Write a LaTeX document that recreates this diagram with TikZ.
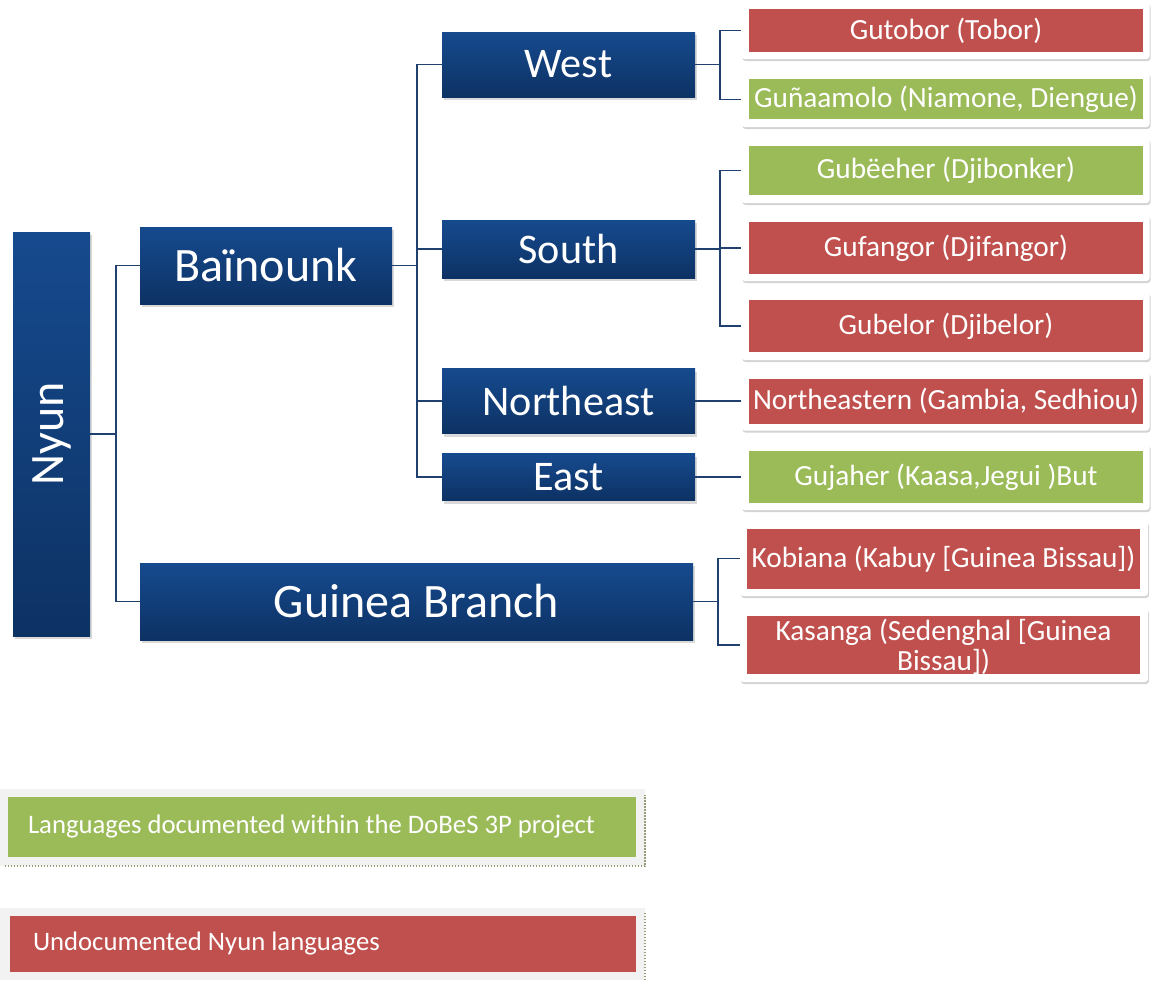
\documentclass[tikz,border=0pt]{standalone}
\usepackage{fontspec}
\usepackage{graphicx}
\setmainfont{Carlito}
\usetikzlibrary{shadows}
\definecolor{bluetop}{RGB}{22,74,142}
\definecolor{bluebot}{RGB}{13,50,100}
\definecolor{lred}{RGB}{192,80,77}
\definecolor{lgreen}{RGB}{155,187,89}
\definecolor{connc}{RGB}{32,64,112}
\definecolor{hatch}{RGB}{150,158,120}
\tikzset{
  bluebox/.style={inner sep=0pt, top color=bluetop, bottom color=bluebot, draw=none, text=white,
    drop shadow={shadow xshift=2pt, shadow yshift=-3pt, opacity=0.3}},
  big/.style={font=\fontsize{48}{52}\selectfont},
  mid/.style={font=\fontsize{42.2}{46}\selectfont},
  leafframe/.style={inner sep=0pt, fill=white, rounded corners=3pt, minimum width=408pt,
    drop shadow={shadow xshift=1pt, shadow yshift=-2pt, opacity=0.35}},
  leaf/.style={inner sep=0pt, text=white, minimum width=394pt, align=center,
    font=\fontsize{29.3}{30.5}\selectfont},
  conn/.style={draw=connc, line width=1.5pt},
  legout/.style={inner sep=0pt, fill=black!5, minimum width=645pt},
  legin/.style={inner sep=0pt},
  legtext/.style={inner sep=0pt, text=white, anchor=west, font=\fontsize{26.7}{30}\selectfont},
  hatchline/.style={draw=hatch, line width=2.2pt, dash pattern=on 1.5pt off 1.5pt}
}
\begin{document}
\begin{tikzpicture}[x=1pt,y=-1pt]
\useasboundingbox (0,0) rectangle (1155,980);
% level 0/1/2 boxes
\node[bluebox, big, minimum width=77pt, minimum height=404pt] (nyun) at (51.5,434) {\rotatebox{90}{Nyun}};
\node[bluebox, big, minimum width=252pt, minimum height=77pt] (bai) at (266,265.5) {Baïnounk};
\node[bluebox, big, minimum width=553pt, minimum height=77pt] (gb) at (416.5,601.5) {Guinea Branch};
\node[bluebox, mid, minimum width=253pt, minimum height=65pt] (west) at (568.5,64.5) {West};
\node[bluebox, mid, minimum width=253pt, minimum height=58pt] (south) at (568.5,249) {South};
\node[bluebox, mid, minimum width=253pt, minimum height=65pt] (ne) at (568.5,401) {Northeast};
\node[bluebox, mid, minimum width=253pt, minimum height=47pt] (east) at (568.5,477) {East};
% leaf frames
\node[leafframe, minimum height=57pt] (f1) at (945.5,30.5) {};
\node[leafframe, minimum height=55pt] (f2) at (945.5,99.5) {};
\node[leafframe, minimum height=65pt] (f3) at (945.5,170.5) {};
\node[leafframe, minimum height=66pt] (f4) at (945.5,248) {};
\node[leafframe, minimum height=68pt] (f5) at (945.5,326) {};
\node[leafframe, minimum height=59pt] (f6) at (945.5,401) {};
\node[leafframe, minimum height=66pt] (f7) at (945.5,477) {};
\node[leafframe, minimum height=75pt] (f8) at (944,558.5) {};
\node[leafframe, minimum height=74pt] (f9) at (944,645) {};
% leaves
\node[leaf, fill=lred, minimum height=43pt] (l1) at (946,30.5) {Gutobor (Tobor)};
\node[leaf, fill=lgreen, minimum height=40pt] (l2) at (946,99) {Guñaamolo (Niamone, Diengue)};
\node[leaf, fill=lgreen, minimum height=49pt] (l3) at (946,170.5) {Gubëeher (Djibonker)};
\node[leaf, fill=lred, minimum height=52pt] (l4) at (946,248) {Gufangor (Djifangor)};
\node[leaf, fill=lred, minimum height=52pt] (l5) at (946,326) {Gubelor (Djibelor)};
\node[leaf, fill=lred, minimum height=45pt] (l6) at (946,401) {Northeastern (Gambia, Sedhiou)};
\node[leaf, fill=lgreen, minimum height=52pt] (l7) at (946,477) {Gujaher (Kaasa,Jegui )But};
\node[leaf, fill=lred, minimum width=393pt, minimum height=60pt] (l8) at (943.5,559) {Kobiana (Kabuy [Guinea Bissau])};
\node[leaf, fill=lred, minimum width=393pt, minimum height=58pt, text depth=0pt] (l9) at (943.5,645) {Kasanga (Sedenghal [Guinea\\Bissau])};
% junction columns
\coordinate (j1) at (116,0);
\coordinate (j2) at (417,0);
\coordinate (j3) at (720,0);
\coordinate (j4) at (718,0);
% connectors
\draw[conn] (nyun.east) -- (nyun.east -| j1) |- (bai.west);
\draw[conn] (nyun.east -| j1) |- (gb.west);
\draw[conn] (bai.east) -- (bai.east -| j2) |- (west.west);
\draw[conn] (bai.east -| j2) |- (south.west);
\draw[conn] (bai.east -| j2) |- (ne.west);
\draw[conn] (bai.east -| j2) |- (east.west);
\draw[conn] (west.east) -- (west.east -| j3) |- (f1.west);
\draw[conn] (west.east -| j3) |- (f2.west);
\draw[conn] (south.east) -- (south.east -| j3) |- (f3.west);
\draw[conn] (south.east -| j3) |- (f4.west);
\draw[conn] (south.east -| j3) |- (f5.west);
\draw[conn] (ne.east) -- (f6.west);
\draw[conn] (east.east) -- (f7.west);
\draw[conn] (gb.east) -- (gb.east -| j4) |- (f8.west);
\draw[conn] (gb.east -| j4) |- (f9.west);
% legend
\node[legout, minimum height=77pt] (lg1o) at (322.5,827.5) {};
\node[legin, fill=lgreen, minimum width=628pt, minimum height=60pt] (lg1) at (322,827) {};
\node[legtext] (lg1t) at ([xshift=20pt]lg1.west) {Languages documented within the DoBeS 3P project};
\node[legout, minimum height=72pt] (lg2o) at (322.5,944) {};
\node[legin, fill=lred, minimum width=626pt, minimum height=56pt] (lg2) at (323,944) {};
\node[legtext] (lg2t) at ([xshift=23pt]lg2.west) {Undocumented Nyun languages};
\draw[hatchline] (lg1o.south west) ++(5,0) -- (lg1o.south east) -- ([yshift=-6pt]lg1o.north east);
\draw[hatchline] (lg2o.south east) -- ([yshift=-4pt]lg2o.north east);
\end{tikzpicture}
\end{document}
